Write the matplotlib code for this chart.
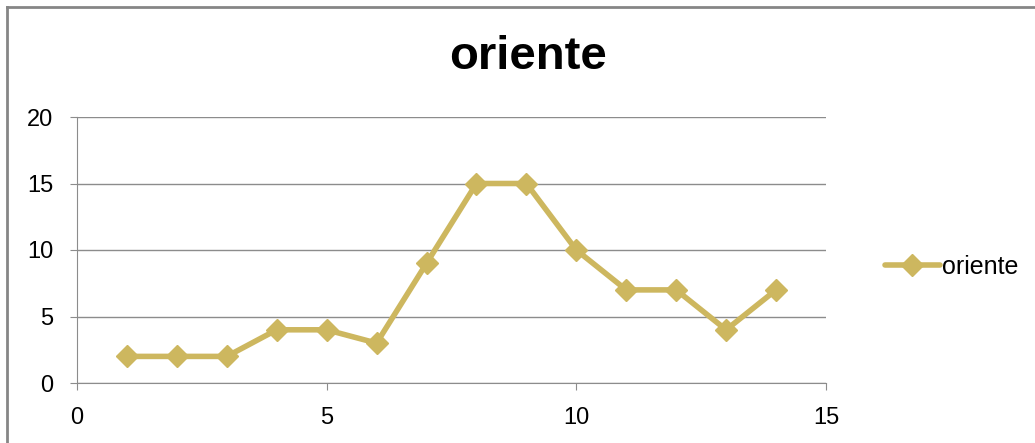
import matplotlib
matplotlib.use('Agg')
import matplotlib.pyplot as plt
from matplotlib.lines import Line2D

plt.rcParams['font.family'] = ['Liberation Sans', 'DejaVu Sans']

# data
x_vals = [1, 2, 3, 4, 5, 6, 7, 8, 9, 10, 11, 12, 13, 14]
oriente = [2, 2, 2, 4, 4, 3, 9, 15, 15, 10, 7, 7, 4, 7]
series_name = 'oriente'

line_color = '#CDB75F'
grid_color = '#8C8C8C'

fig = plt.figure(figsize=(10.35, 4.43), dpi=100)
ax = fig.add_axes([77 / 1035, 1 - 383 / 443, (826 - 77) / 1035, (383 - 117) / 443])

ax.plot(x_vals, oriente, color=line_color, linewidth=4, marker='D',
        markersize=11, label=series_name, solid_capstyle='round',
        solid_joinstyle='round')

ax.set_xlim(0, 15)
ax.set_ylim(0, 20)
ax.set_xticks([0, 5, 10, 15])
ax.set_yticks([0, 5, 10, 15, 20])
ax.grid(True, axis='y', color=grid_color, linewidth=1)
ax.set_axisbelow(True)

for side in ['top', 'right']:
    ax.spines[side].set_visible(False)
for side in ['left', 'bottom']:
    ax.spines[side].set_color(grid_color)
ax.tick_params(direction='out', length=5, color=grid_color, labelsize=17,
               labelcolor='black', pad=12)

fig.text(528 / 1035, 1 - 57 / 443, 'oriente', ha='center', va='center',
         fontsize=34, fontweight='bold')

leg = fig.legend(loc='center left', bbox_to_anchor=(862 / 1035, 1 - 267 / 443),
                 frameon=False, fontsize=18, handlelength=2.2, handletextpad=0.1)

# chart border: only the top and left edges fall inside the picture
border_kw = dict(transform=fig.transFigure, color='#868686', linewidth=2)
fig.add_artist(Line2D([7 / 1035, 7 / 1035], [0, 1 - 7 / 443], **border_kw))
fig.add_artist(Line2D([7 / 1035, 1], [1 - 7 / 443, 1 - 7 / 443], **border_kw))

fig.savefig('out.png', dpi=100)
